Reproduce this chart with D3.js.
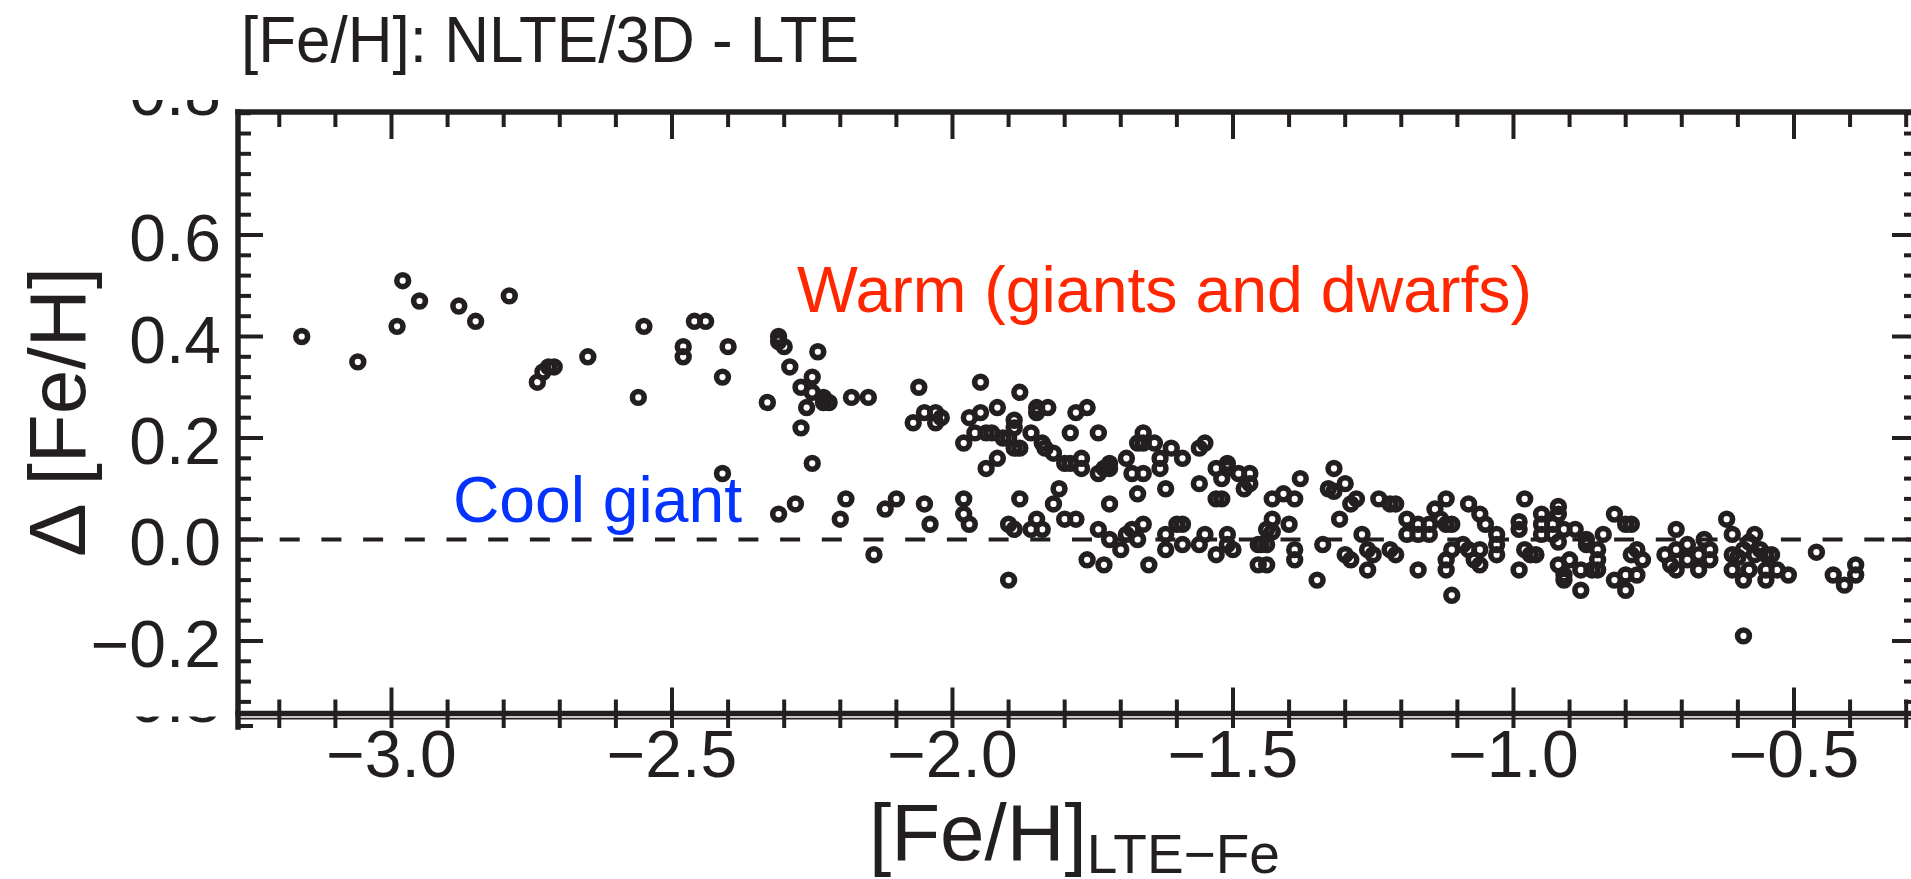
<!DOCTYPE html>
<html>
<head>
<meta charset="utf-8">
<script src="https://cdn.jsdelivr.net/npm/d3@7"></script>
<style>
  html, body { margin: 0; padding: 0; background: #fff; overflow: hidden; }
  svg { display: block; }
  text { font-family: "Liberation Sans", Arial, Helvetica, sans-serif; }
</style>
</head>
<body>
<svg id="chart" width="1911" height="879"></svg>
<script>
// [Fe/H] (LTE, Fe lines) and the NLTE/3D - LTE correction for each star
const stars = [
  [-3.16,0.40],[-3.06,0.35],[-2.98,0.51],[-2.99,0.42],[-2.95,0.47],[-2.88,0.46],[-2.85,0.43],
  [-2.79,0.48],[-2.74,0.31],[-2.73,0.33],[-2.72,0.34],[-2.71,0.34],[-2.65,0.36],
  [-2.55,0.42],[-2.56,0.28],[-2.46,0.43],[-2.44,0.43],[-2.48,0.38],[-2.48,0.36],[-2.40,0.38],
  [-2.41,0.32],[-2.41,0.13],[-2.33,0.27],[-2.31,0.40],[-2.31,0.39],[-2.30,0.38],[-2.29,0.34],
  [-2.24,0.37],[-2.25,0.32],[-2.27,0.30],[-2.25,0.29],[-2.26,0.26],[-2.23,0.28],[-2.22,0.27],
  [-2.23,0.27],[-2.27,0.22],[-2.25,0.15],[-2.18,0.28],[-2.15,0.28],[-2.31,0.05],[-2.28,0.07],
  [-2.19,0.08],[-2.20,0.04],[-2.14,-0.03],[-2.12,0.06],[-2.10,0.08],[-2.06,0.30],[-2.07,0.23],
  [-2.05,0.25],[-2.03,0.25],[-2.03,0.23],[-2.05,0.07],[-2.04,0.03],
  [-2.02,0.24],[-1.95,0.31],[-1.97,0.24],[-1.95,0.25],[-1.92,0.26],[-1.98,0.19],[-1.96,0.21],
  [-1.94,0.21],[-1.93,0.21],[-1.91,0.20],[-1.90,0.20],[-1.89,0.235],[-1.89,0.22],[-1.89,0.18],
  [-1.88,0.18],[-1.88,0.29],[-1.85,0.26],[-1.85,0.25],[-1.83,0.26],[-1.86,0.21],[-1.84,0.19],
  [-1.835,0.18],[-1.82,0.17],[-1.80,0.15],[-1.79,0.15],[-1.77,0.16],[-1.77,0.14],[-1.78,0.25],
  [-1.76,0.26],[-1.79,0.21],[-1.74,0.21],[-1.74,0.13],[-1.73,0.14],[-1.72,0.15],[-1.72,0.14],
  [-1.94,0.14],[-1.92,0.16],[-1.69,0.16],[-1.68,0.13],[-1.66,0.13],[-1.67,0.09],[-1.66,0.21],
  [-1.67,0.19],[-1.66,0.19],[-1.64,0.19],[-1.63,0.16],[-1.63,0.14],[-1.61,0.18],[-1.59,0.16],
  [-1.62,0.10],[-1.56,0.18],[-1.55,0.19],[-1.56,0.11],[-1.53,0.14],[-1.51,0.15],[-1.51,0.14],
  [-1.52,0.12],[-1.53,0.08],[-1.52,0.08],[-1.49,0.13],[-1.47,0.13],[-1.48,0.10],
  [-1.98,0.08],[-1.98,0.05],[-1.97,0.03],[-1.90,0.03],[-1.89,0.02],[-1.88,0.08],[-1.90,-0.08],
  [-1.86,0.02],[-1.85,0.04],[-1.84,0.02],[-1.82,0.07],[-1.81,0.10],[-1.80,0.04],[-1.78,0.04],
  [-1.72,0.07],[-1.74,0.02],[-1.72,0.00],[-1.76,-0.04],[-1.73,-0.05],[-1.70,-0.02],[-1.69,0.01],
  [-1.68,0.02],[-1.67,0.00],[-1.66,0.03],[-1.65,-0.05],[-1.62,0.01],[-1.62,-0.02],[-1.60,0.03],
  [-1.59,0.03],[-1.59,-0.01],[-1.56,-0.01],[-1.55,0.01],[-1.53,-0.03],[-1.51,0.01],[-1.51,-0.01],
  [-1.50,-0.02],[-1.455,-0.01],[-1.455,-0.05],
  [-1.47,0.11],[-1.38,0.12],[-1.43,0.08],[-1.41,0.09],[-1.39,0.08],[-1.43,0.04],[-1.40,0.03],
  [-1.44,0.02],[-1.43,0.015],[-1.45,-0.01],[-1.44,-0.01],[-1.39,-0.02],[-1.39,-0.04],[-1.44,-0.05],
  [-1.35,-0.08],[-1.32,0.14],[-1.33,0.10],[-1.32,0.095],[-1.30,0.11],[-1.29,0.07],[-1.28,0.08],
  [-1.31,0.04],[-1.34,-0.01],[-1.30,-0.03],[-1.29,-0.04],[-1.27,0.01],[-1.26,-0.02],[-1.25,-0.03],
  [-1.26,-0.06],[-1.24,0.08],[-1.22,0.07],[-1.21,0.07],[-1.22,-0.02],[-1.21,-0.03],[-1.19,0.04],
  [-1.19,0.01],[-1.17,0.03],[-1.17,0.01],[-1.15,0.03],[-1.15,0.01],[-1.14,0.06],[-1.13,0.04],
  [-1.12,0.08],[-1.12,0.03],[-1.11,0.03],[-1.17,-0.06],[-1.12,-0.04],[-1.12,-0.06],[-1.11,-0.11],
  [-1.11,-0.02],[-1.08,0.07],[-1.06,0.05],[-1.05,0.03],[-1.03,0.01],[-1.09,-0.01],[-1.08,-0.02],
  [-1.07,-0.04],[-1.06,-0.05],[-1.06,-0.02],[-1.03,-0.01],[-1.03,-0.03],[-0.99,0.035],[-0.99,0.02],
  [-0.98,0.08],[-0.99,-0.06],[-0.98,-0.02],[-0.97,-0.03],[-0.96,-0.03],[-0.95,0.05],[-0.95,0.03],
  [-0.95,0.01],[-0.93,0.03],[-0.92,0.065],[-0.92,0.05],[-0.91,0.02],[-0.92,-0.005],[-0.93,0.01],
  [-0.89,0.02],[-0.92,-0.05],[-0.91,-0.07],[-0.91,-0.08],[-0.90,-0.04],[-0.88,-0.10],[-0.88,-0.06],
  [-0.87,0.00],[-0.87,-0.01],[-0.86,-0.06],[-0.85,-0.06],[-0.85,-0.02],[-0.85,-0.04],[-0.84,0.01],
  [-0.82,0.05],[-0.80,0.03],[-0.79,0.03],[-0.78,-0.02],[-0.77,-0.04],[-0.79,-0.03],[-0.82,-0.08],
  [-0.80,-0.07],[-0.78,-0.07],[-0.80,-0.10],[-0.71,0.02],[-0.73,-0.03],[-0.72,-0.05],[-0.71,-0.06],
  [-0.71,-0.02],[-0.69,-0.01],[-0.69,-0.04],[-0.67,-0.03],[-0.67,-0.06],[-0.66,0.00],[-0.65,-0.02],
  [-0.65,-0.04],[-0.62,0.04],[-0.61,0.01],[-0.57,0.01],[-0.61,-0.03],[-0.60,-0.035],[-0.59,-0.02],
  [-0.58,-0.005],[-0.57,-0.03],[-0.56,-0.02],[-0.55,-0.03],[-0.54,-0.03],[-0.61,-0.06],[-0.59,-0.08],
  [-0.58,-0.06],[-0.55,-0.08],[-0.55,-0.06],[-0.53,-0.06],[-0.51,-0.07],[-0.59,-0.19],
  [-0.46,-0.025],[-0.43,-0.07],[-0.41,-0.09],[-0.39,-0.05],[-0.39,-0.07]
];

const xMajorTicks = [-3.0, -2.5, -2.0, -1.5, -1.0, -0.5];
const yMajorTicks = [-0.2, 0.0, 0.2, 0.4, 0.6];
const xMinorStep = 0.1;
const yMinorStep = 0.04;

const titleText = "[Fe/H]: NLTE/3D - LTE";
const yTitle = "\u0394 [Fe/H]";
const xTitleMain = "[Fe/H]";
const xTitleSub = "LTE\u2212Fe";
const warmLabel = "Warm (giants and dwarfs)";
const coolLabel = "Cool giant";
const cutLabel = "0.8";

const ink = "#231f20";
const frame = { left: 238, right: 1917, top: 112, bottom: 713.5 };

const x = d3.scaleLinear().domain([-3.2736, -0.2807]).range([frame.left, frame.right]);
const y = d3.scaleLinear().domain([-0.3429, 0.8424]).range([frame.bottom, frame.top]);

const svg = d3.select("#chart");
svg.append("rect").attr("width", 1911).attr("height", 879).attr("fill", "#fff");

const fmt = d3.format(".1f");
const near = (a, b) => Math.abs(a - b) < 1e-6;

const xAll = d3.range(-32, -2).map(k => +(k * xMinorStep).toFixed(2));
const xMinor = xAll.filter(v => !xMajorTicks.some(m => near(m, v)));
const yAll = d3.range(-8, 22).map(k => +(k * yMinorStep).toFixed(2))
  .filter(v => v >= y.domain()[0] && v <= y.domain()[1]);
const yMinor = yAll.filter(v => !yMajorTicks.some(m => near(m, v)));

// clipped label fragments peeking out at the panel edges
const defs = svg.append("defs");
defs.append("clipPath").attr("id", "clipTop").append("rect")
  .attr("x", 0).attr("y", 100).attr("width", 236).attr("height", 17);
defs.append("clipPath").attr("id", "clipBot").append("rect")
  .attr("x", 0).attr("y", 716.5).attr("width", 236).attr("height", 7);

svg.append("text").attr("clip-path", "url(#clipTop)")
  .attr("x", 221).attr("y", 115).attr("text-anchor", "end")
  .attr("font-size", 66).attr("fill", ink).text(cutLabel);
svg.append("text").attr("clip-path", "url(#clipBot)")
  .attr("x", 221).attr("y", 722).attr("text-anchor", "end")
  .attr("font-size", 66).attr("fill", ink).text(cutLabel);

// edge of the adjoining panel below
const stub = svg.append("g").attr("stroke", ink);
stub.append("line").attr("x1", frame.left).attr("x2", 1911)
  .attr("y1", 718.6).attr("y2", 718.6).attr("stroke-width", 1.6);
stub.selectAll("line.st").data(xAll).join("line").attr("class", "st")
  .attr("x1", d => x(d)).attr("x2", d => x(d))
  .attr("y1", 714).attr("y2", 728).attr("stroke-width", 4);
stub.append("line").attr("x1", frame.left).attr("x2", frame.left + 15)
  .attr("y1", 726).attr("y2", 726).attr("stroke-width", 4);

// zero reference
svg.append("line")
  .attr("x1", frame.left).attr("x2", frame.right)
  .attr("y1", y(0)).attr("y2", y(0))
  .attr("stroke", ink).attr("stroke-width", 4)
  .attr("stroke-dasharray", "20,21.7");

// ticks on all four sides, pointing inward
const tk = svg.append("g").attr("stroke", ink).attr("stroke-width", 4);
function xTicks(vals, y0, len) {
  tk.append("g").selectAll("line").data(vals).join("line")
    .attr("x1", d => x(d)).attr("x2", d => x(d))
    .attr("y1", y0).attr("y2", y0 + len);
}
function yTicks(vals, x0, len) {
  tk.append("g").selectAll("line").data(vals).join("line")
    .attr("y1", d => y(d)).attr("y2", d => y(d))
    .attr("x1", x0).attr("x2", x0 + len);
}
xTicks(xMajorTicks, frame.bottom, -26);
xTicks(xMinor, frame.bottom, -14);
xTicks(xMajorTicks, frame.top, 27);
xTicks(xMinor, frame.top, 15);
yTicks(yMajorTicks, frame.left, 25);
yTicks(yMinor, frame.left, 13);
yTicks(yMajorTicks, frame.right, -25);
yTicks(yMinor, frame.right, -13);

// frame
const fr = svg.append("g").attr("stroke", ink).attr("stroke-width", 5.5).attr("stroke-linecap", "square");
fr.append("line").attr("x1", frame.left).attr("x2", frame.right).attr("y1", frame.top).attr("y2", frame.top);
fr.append("line").attr("x1", frame.left).attr("x2", frame.right).attr("y1", frame.bottom).attr("y2", frame.bottom);
fr.append("line").attr("x1", frame.left).attr("x2", frame.left).attr("y1", frame.top).attr("y2", 727);
fr.append("line").attr("x1", frame.right).attr("x2", frame.right).attr("y1", frame.top).attr("y2", frame.bottom);

// stars
svg.append("g").selectAll("circle").data(stars).join("circle")
  .attr("cx", d => x(d[0])).attr("cy", d => y(d[1])).attr("r", 5.9)
  .attr("fill", "none").attr("stroke", ink).attr("stroke-width", 5.6);

// tick labels
svg.append("g").selectAll("text").data(yMajorTicks).join("text")
  .attr("x", 221).attr("y", d => y(d) + 26).attr("text-anchor", "end")
  .attr("font-size", 66).attr("fill", ink).text(d => fmt(d));
svg.append("g").selectAll("text").data(xMajorTicks).join("text")
  .attr("x", d => x(d)).attr("y", 777).attr("text-anchor", "middle")
  .attr("font-size", 66).attr("fill", ink).text(d => fmt(d));

// titles
svg.append("text").attr("x", 241).attr("y", 62).attr("font-size", 64)
  .attr("textLength", 618).attr("lengthAdjust", "spacingAndGlyphs")
  .attr("fill", ink).text(titleText);

svg.append("text").attr("transform", "translate(85,412) rotate(-90)")
  .attr("text-anchor", "middle").attr("font-size", 80)
  .attr("textLength", 290).attr("lengthAdjust", "spacingAndGlyphs")
  .attr("fill", ink).text(yTitle);

const xt = svg.append("text").attr("x", 869).attr("y", 860).attr("fill", ink);
xt.append("tspan").attr("font-size", 80).text(xTitleMain);
xt.append("tspan").attr("font-size", 55).attr("dy", 13).text(xTitleSub);

// population annotations
svg.append("text").attr("x", 797).attr("y", 312).attr("font-size", 64)
  .attr("textLength", 735).attr("lengthAdjust", "spacingAndGlyphs")
  .attr("fill", "#FF2600").text(warmLabel);
svg.append("text").attr("x", 453).attr("y", 522).attr("font-size", 64)
  .attr("textLength", 289).attr("lengthAdjust", "spacingAndGlyphs")
  .attr("fill", "#0433FF").text(coolLabel);
</script>
</body>
</html>
